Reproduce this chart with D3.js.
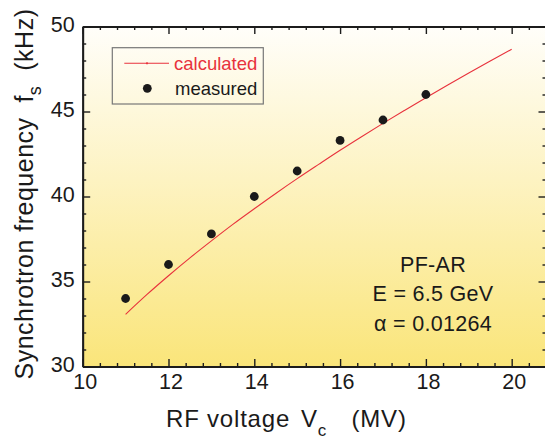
<!DOCTYPE html>
<html>
<head>
<meta charset="utf-8">
<script src="https://cdn.jsdelivr.net/npm/d3@7"></script>
<style>
  body { margin: 0; background: #fff; }
  svg { display: block; font-family: "Liberation Sans", Arial, sans-serif; }
</style>
</head>
<body>
<svg id="chart" width="545" height="439"></svg>
<script>
// data
const measuredV = [11, 12, 13, 14, 15, 16, 17, 18];
const measuredF = [34.0, 36.0, 37.8, 40.0, 41.5, 43.3, 44.5, 46.0];
const calcV = [11, 11.5, 12, 12.5, 13, 13.5, 14, 14.5, 15, 15.5, 16, 16.5, 17, 17.5, 18, 18.5, 19, 19.5, 20];
const calcF = [33.07, 34.24, 35.34, 36.39, 37.39, 38.36, 39.28, 40.18, 41.05, 41.89, 42.72, 43.52, 44.30, 45.06, 45.81, 46.54, 47.26, 47.97, 48.66];
const xMajor = [10, 12, 14, 16, 18, 20];
const xMinor = [10.4, 10.8, 11.2, 11.6, 12.4, 12.8, 13.2, 13.6, 14.4, 14.8, 15.2, 15.6, 16.4, 16.8, 17.2, 17.6, 18.4, 18.8, 19.2, 19.6, 20.4, 20.8];
const yMajor = [30, 35, 40, 45, 50];
const yMinor = [31, 32, 33, 34, 36, 37, 38, 39, 41, 42, 43, 44, 46, 47, 48, 49];
const legendLabels = ["calculated", "measured"];
const noteLines = ["PF-AR", "E = 6.5 GeV", "\u03b1 = 0.01264"];

const plot = {left: 82.7, right: 546, top: 26.5, bottom: 366.5};
const axisColor = "#1c1c1c";
const textColor = "#1a1a1a";
const red = "#e8323c";

const svg = d3.select("#chart");

const x = d3.scaleLinear().domain([10, 20.8]).range([plot.left, plot.right]);
const y = d3.scaleLinear().domain([30, 50]).range([plot.bottom, plot.top]);

// background gradient
const grad = svg.append("defs").append("linearGradient")
  .attr("id", "bg").attr("x1", 0).attr("y1", 0).attr("x2", 0).attr("y2", 1);
grad.append("stop").attr("offset", "0%").attr("stop-color", "#fffefa");
grad.append("stop").attr("offset", "45%").attr("stop-color", "#fdf3c2");
grad.append("stop").attr("offset", "100%").attr("stop-color", "#fae57a");

svg.append("rect")
  .attr("x", plot.left).attr("y", plot.top)
  .attr("width", plot.right - plot.left).attr("height", plot.bottom - plot.top)
  .attr("fill", "url(#bg)");

// axes helper
function styleAxis(g) {
  g.select(".domain").attr("stroke", axisColor).attr("stroke-width", 1.8);
  g.selectAll(".tick line").attr("stroke", axisColor).attr("stroke-width", 1.4);
  g.selectAll(".tick text")
    .attr("fill", textColor)
    .style("font-size", "21.5px")
    .style("font-family", "'Liberation Sans', Arial, sans-serif");
}

// bottom
svg.append("g").attr("transform", `translate(0,${plot.bottom})`)
  .call(d3.axisBottom(x).tickValues(xMinor).tickSize(-3.5).tickSizeOuter(0).tickFormat(""))
  .call(styleAxis);
const xAx = svg.append("g").attr("transform", `translate(0,${plot.bottom})`)
  .call(d3.axisBottom(x).tickValues(xMajor).tickSize(-7.5).tickSizeOuter(0).tickPadding(7).tickFormat(d3.format("d")))
  .call(styleAxis);
xAx.selectAll(".tick text").attr("dx", "2");

// top
svg.append("g").attr("transform", `translate(0,${plot.top})`)
  .call(d3.axisTop(x).tickValues(xMinor).tickSize(-3.5).tickSizeOuter(0).tickFormat(""))
  .call(styleAxis);
svg.append("g").attr("transform", `translate(0,${plot.top})`)
  .call(d3.axisTop(x).tickValues(xMajor).tickSize(-7.5).tickSizeOuter(0).tickFormat(""))
  .call(styleAxis);

// left
svg.append("g").attr("transform", `translate(${plot.left},0)`)
  .call(d3.axisLeft(y).tickValues(yMinor).tickSize(-3.5).tickSizeOuter(0).tickFormat(""))
  .call(styleAxis);
const yAx = svg.append("g").attr("transform", `translate(${plot.left},0)`)
  .call(d3.axisLeft(y).tickValues(yMajor).tickSize(-7.5).tickSizeOuter(0).tickPadding(8).tickFormat(d3.format("d")))
  .call(styleAxis);
yAx.selectAll(".tick text").attr("dy", "0.22em");

// right
svg.append("g").attr("transform", `translate(${plot.right},0)`)
  .call(d3.axisRight(y).tickValues(yMinor).tickSize(-3.5).tickSizeOuter(0).tickFormat(""))
  .call(styleAxis);
svg.append("g").attr("transform", `translate(${plot.right},0)`)
  .call(d3.axisRight(y).tickValues(yMajor).tickSize(-7.5).tickSizeOuter(0).tickFormat(""))
  .call(styleAxis);

// calculated curve
const calc = calcV.map((v, i) => ({v, f: calcF[i]}));
svg.append("path")
  .datum(calc)
  .attr("fill", "none")
  .attr("stroke", red)
  .attr("stroke-width", 1.1)
  .attr("d", d3.line().x(d => x(d.v)).y(d => y(d.f)).curve(d3.curveMonotoneX));

// measured points
const meas = measuredV.map((v, i) => ({v, f: measuredF[i]}));
svg.append("g").selectAll("circle")
  .data(meas)
  .join("circle")
  .attr("cx", d => x(d.v))
  .attr("cy", d => y(d.f))
  .attr("r", 4.4)
  .attr("fill", "#1a1a1a");

// legend
const lg = svg.append("g");
lg.append("rect")
  .attr("x", 112.3).attr("y", 47.7).attr("width", 151).attr("height", 56.3)
  .attr("fill", "none").attr("stroke", "#777").attr("stroke-width", 1.2);
lg.append("line")
  .attr("x1", 124.3).attr("x2", 169).attr("y1", 63.3).attr("y2", 63.3)
  .attr("stroke", red).attr("stroke-width", 1.1);
lg.append("circle").attr("cx", 147).attr("cy", 63.3).attr("r", 1.1).attr("fill", red);
lg.append("circle").attr("cx", 147.3).attr("cy", 88.3).attr("r", 4.4).attr("fill", "#1a1a1a");
lg.append("text").attr("x", 174).attr("y", 70).attr("fill", red)
  .style("font-size", "18.5px").text(legendLabels[0]);
lg.append("text").attr("x", 175).attr("y", 94.5).attr("fill", textColor)
  .style("font-size", "18.5px").text(legendLabels[1]);

// annotation
svg.append("g").selectAll("text")
  .data(noteLines)
  .join("text")
  .attr("x", 433)
  .attr("y", (d, i) => 271.7 + i * 29.5)
  .attr("text-anchor", "middle")
  .attr("fill", textColor)
  .style("font-size", "21.5px")
  .style("letter-spacing", "0.3px")
  .text(d => d);

// x title
const xt = svg.append("text")
  .attr("x", 166).attr("y", 426.7)
  .attr("fill", textColor)
  .style("font-size", "24px")
  .style("letter-spacing", "0.8px");
xt.append("tspan").text("RF voltage");
xt.append("tspan").attr("x", 301).text("V");
xt.append("tspan").attr("dy", 9).style("font-size", "17px").text("c");
xt.append("tspan").attr("x", 351.5).attr("dy", -9).text("(MV)");

// y title
const yt = svg.append("text")
  .attr("transform", "translate(33,194) rotate(-90)")
  .attr("text-anchor", "middle")
  .attr("fill", textColor)
  .style("font-size", "25px")
  .style("letter-spacing", "0.5px")
  .style("white-space", "pre");
yt.append("tspan").text("Synchrotron frequency  f");
yt.append("tspan").attr("dy", 8).style("font-size", "18px").text("s");
yt.append("tspan").attr("dy", -8).text("  (kHz)");
</script>
</body>
</html>
